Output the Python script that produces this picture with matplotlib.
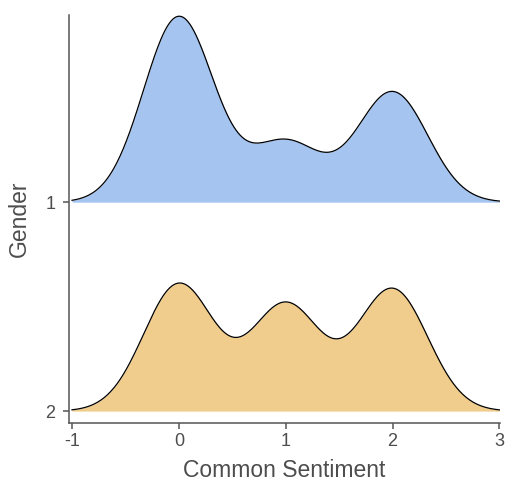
import numpy as np
import matplotlib
matplotlib.use("Agg")
import matplotlib.pyplot as plt

plt.rcParams['font.family'] = ['Liberation Sans', 'DejaVu Sans']
plt.rcParams['axes.unicode_minus'] = False

# responses per sentiment value, by gender
sentiment = [0, 1, 2]
gender = [1, 2]
counts_g1 = [37, 12, 22]
counts_g2 = [25, 21, 24]
colors = ["#A5C4F0", "#F0CD8C"]
bw = 0.33

x = np.linspace(-1, 3, 400)


def kde(values, counts):
    counts = np.asarray(counts, float)
    d = np.zeros_like(x)
    for v, c in zip(values, counts):
        d += c * np.exp(-0.5 * ((x - v) / bw) ** 2)
    return d / (counts.sum() * bw * np.sqrt(2 * np.pi))


dens = [kde(sentiment, counts_g1), kde(sentiment, counts_g2)]
scale = 0.89 / max(d.max() for d in dens)

fig = plt.figure(figsize=(5.06, 4.9), dpi=100)
ax = fig.add_axes([0.1364, 0.1367, 0.8516, 0.8323])

for g, d, c in zip(gender, dens, colors):
    top = g - d * scale
    ax.fill_between(x, g, top, color=c, lw=0, zorder=2)
    ax.plot(x, top, color="black", lw=0.9, zorder=3)

ax.set_xlim(-1.028, 3.005)
ax.set_ylim(2.057, 0.105)
ax.set_xticks([-1, 0, 1, 2, 3])
ax.set_yticks(gender)
ax.set_yticklabels([str(g) for g in gender])

for s in ["top", "right"]:
    ax.spines[s].set_visible(False)
for s in ["left", "bottom"]:
    ax.spines[s].set_color("#555555")
    ax.spines[s].set_linewidth(1.1)
ax.tick_params(colors="#555555", labelcolor="#4d4d4d", labelsize=13,
               length=4, width=1.1)
ax.tick_params(axis="y", pad=6)

ax.set_xlabel("Common Sentiment", fontsize=16.5, color="#4d4d4d", labelpad=6)
ax.set_ylabel("Gender", fontsize=16.5, color="#4d4d4d", labelpad=10)

fig.savefig("out.png", dpi=100)
